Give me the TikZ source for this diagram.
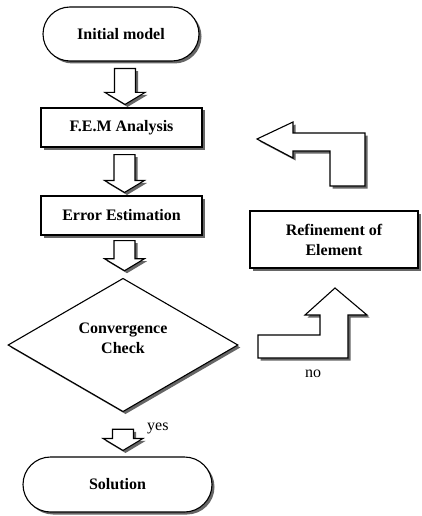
\documentclass[tikz,border=0pt]{standalone}
\usepackage{fontspec}
\setmainfont{Liberation Serif}
\usetikzlibrary{shapes.geometric,shapes.misc,shadows,calc}
\tikzset{
        shadowed/.style={drop shadow={shadow xshift=2.5pt, shadow yshift=-2.5pt, fill=black!60, opacity=1}},
        flownode/.style={draw, line width=1.1pt, fill=white, align=center, inner sep=0pt, font=\fontsize{16}{20}\selectfont\bfseries, shadowed},
        % Start and end nodes
        node_terminal/.style={flownode, rounded rectangle, minimum height=54pt},
        % Process nodes
        node_process/.style={flownode, rectangle, minimum width=161pt, minimum height=39pt},
        % Decision nodes
        node_decision/.style={flownode, diamond, minimum width=230pt, minimum height=120pt, text depth=14pt},
        % Hollow block arrows
        hollow/.style={draw, line width=1.1pt, fill=white, line join=miter, shadowed},
        % Branch labels
        node_label/.style={font=\fontsize{16}{20}\selectfont, inner sep=0pt}
}
% hollow down arrow from shaft top #1 to tip #2
\newcommand{\hollowarrow}[2]{%
    \draw[hollow] let \p1=(#1), \p2=(#2) in
        (\x1-10.5pt,\y1) -- (\x1+10.5pt,\y1) -- (\x1+10.5pt,\y2+12pt) -- (\x1+20pt,\y2+12pt)
        -- (\x1,\y2) -- (\x1-20pt,\y2+12pt) -- (\x1-10.5pt,\y2+12pt) -- cycle;
}
\begin{document}
\begin{tikzpicture}[x=1pt, y=-1pt]
    \useasboundingbox (0,0) rectangle (421,516);
    \node[node_terminal, minimum width=156pt] (init) at (121,34) {Initial model};
    \node[node_process] (fem) at (121.5,127.5) {F.E.M Analysis};
    \node[node_process] (err) at (121.5,215.5) {Error Estimation};
    \node[node_decision] (conv) at (123,345) {Convergence\\Check};
    \node[node_terminal, minimum width=189pt, minimum height=55pt] (sol) at (117.5,484.5) {Solution};
    \node[node_process, minimum width=168pt, minimum height=57pt] (refine) at (334,239.5) {Refinement of\\Element};

    \hollowarrow{$(init.south)+(4,7)$}{$(fem.north)+(4,-3)$}
    \hollowarrow{$(fem.south)+(3,7)$}{$(err.north)+(3,-3)$}
    \hollowarrow{$(err.south)+(3,5)$}{$(conv.north)+(0,-7)$}
    \hollowarrow{$(conv.south)+(0,17)$}{$(sol.north)+(0,-6)$}

    % loop back arrows
    \draw[hollow] (257,139) -- (293,122) -- (293,133) -- (365,133) -- (365,186)
        -- (330,186) -- (330,151) -- (293,151) -- (293,158) -- cycle;
    \draw[hollow] (258,335) -- (320,335) -- (320,315) -- (305,315) -- (335,288)
        -- (367,315) -- (348,315) -- (348,358) -- (258,358) -- cycle;

    \node[node_label, anchor=west] (yes) at (147,428) {yes};
    \node[node_label] (no) at (313,374) {no};
\end{tikzpicture}
\end{document}
